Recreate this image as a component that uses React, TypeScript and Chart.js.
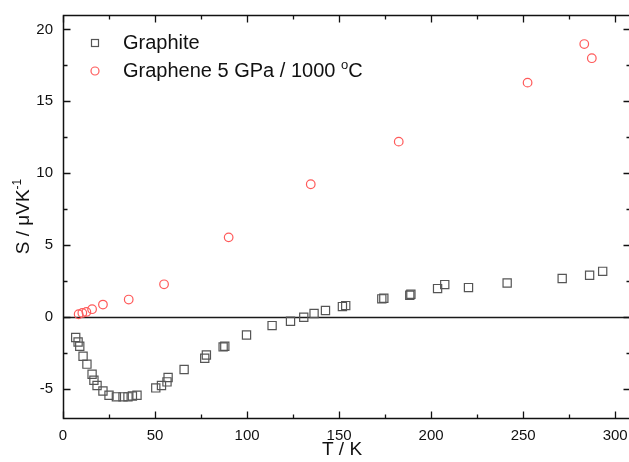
import React, { useEffect, useRef } from "react";
import { Chart, registerables } from "chart.js";

Chart.register(...registerables);

// ---- data ----
const graphiteT = [6.9, 8.2, 9.1, 10.9, 13.0, 15.8, 16.8, 18.5, 21.7, 25.0, 29.0, 32.6, 35.3, 37.7, 40.2, 50.4, 53.5, 56.5, 57.1, 65.8, 77.0, 77.9, 87.0, 87.9, 99.7, 113.6, 123.6, 130.8, 136.4, 142.6, 151.8, 153.6, 173.2, 174.3, 188.4, 189.0, 203.5, 207.4, 220.3, 241.3, 271.2, 286.1, 293.2];
const graphiteS = [-1.41, -1.72, -2.01, -2.71, -3.26, -3.96, -4.38, -4.74, -5.12, -5.42, -5.53, -5.53, -5.53, -5.47, -5.42, -4.91, -4.74, -4.49, -4.19, -3.63, -2.85, -2.62, -2.06, -2.01, -1.23, -0.58, -0.28, 0.0, 0.26, 0.47, 0.74, 0.81, 1.28, 1.32, 1.53, 1.6, 1.99, 2.27, 2.06, 2.38, 2.69, 2.92, 3.19];

const grapheneT = [8.5, 10.5, 12.7, 15.8, 21.7, 35.7, 54.9, 90.0, 134.6, 182.4, 252.4, 283.2, 287.3];
const grapheneS = [0.21, 0.3, 0.37, 0.56, 0.88, 1.23, 2.29, 5.55, 9.24, 12.2, 16.3, 18.98, 18.0];

const xMajorTicks = [0, 50, 100, 150, 200, 250, 300];
const xMinorTicks = [25, 75, 125, 175, 225, 275];
const yMajorTicks = [-5, 0, 5, 10, 15, 20];
const yMinorTicks = [-2.5, 2.5, 7.5, 12.5, 17.5];

const seriesNames = ["Graphite", "Graphene 5 GPa / 1000 "];
const grapheneNameSup = "o";
const grapheneNameTail = "C";
const xTitle = "T / K";
const yTitleMain = "S / \u03BCVK";
const yTitleSup = "-1";

const FONT = "'Liberation Sans', Arial, sans-serif";
const SQUARE_COLOR = "#555555";
const CIRCLE_COLOR = "#ff5a5a";
const AXIS_COLOR = "#111111";

const decorPlugin = {
  id: "decor",
  beforeDatasetsDraw(chart: any) {
    const { ctx, chartArea: a, scales } = chart;
    const y0 = Math.round(scales.y.getPixelForValue(0)) + 0.5;
    ctx.save();
    ctx.strokeStyle = "#1a1a1a";
    ctx.lineWidth = 1.4;
    ctx.beginPath();
    ctx.moveTo(a.left, y0);
    ctx.lineTo(a.right, y0);
    ctx.stroke();
    ctx.restore();
  },
  afterDraw(chart: any) {
    const { ctx, chartArea: a, scales } = chart;
    const xs = scales.x;
    const ys = scales.y;
    ctx.save();
    ctx.strokeStyle = AXIS_COLOR;
    ctx.lineWidth = 1.5;
    const L = Math.round(a.left) + 0.5;
    const R = Math.round(a.right) + 1.5; // right frame lies just outside the picture
    const T = Math.round(a.top) + 0.5;
    const B = Math.round(a.bottom) + 0.5;
    ctx.beginPath();
    ctx.moveTo(R, T);
    ctx.lineTo(L, T);
    ctx.lineTo(L, B);
    ctx.lineTo(R, B);
    ctx.stroke();

    ctx.lineWidth = 1.3;
    const tick = (vals: number[], len: number) => {
      ctx.beginPath();
      for (const v of vals) {
        const px = Math.round(xs.getPixelForValue(v)) + 0.5;
        ctx.moveTo(px, B);
        ctx.lineTo(px, B - len);
        ctx.moveTo(px, T);
        ctx.lineTo(px, T + len);
      }
      ctx.stroke();
    };
    const ytick = (vals: number[], len: number) => {
      ctx.beginPath();
      for (const v of vals) {
        const py = Math.round(ys.getPixelForValue(v)) + 0.5;
        ctx.moveTo(L, py);
        ctx.lineTo(L + len, py);
        ctx.moveTo(R, py);
        ctx.lineTo(R - len, py);
      }
      ctx.stroke();
    };
    tick(xMajorTicks, 7);
    tick(xMinorTicks, 4);
    ytick(yMajorTicks, 7);
    ytick(yMinorTicks, 4);

    // axis titles
    ctx.fillStyle = "#111";
    ctx.font = `19px ${FONT}`;
    ctx.textAlign = "center";
    ctx.textBaseline = "alphabetic";
    ctx.fillText(xTitle, (a.left + a.right) / 2 - 4, 455);

    ctx.save();
    ctx.translate(29, (a.top + a.bottom) / 2);
    ctx.rotate(-Math.PI / 2);
    ctx.font = `19px ${FONT}`;
    const mainW = ctx.measureText(yTitleMain).width;
    ctx.font = `12px ${FONT}`;
    const supW = ctx.measureText(yTitleSup).width;
    const total = mainW + supW;
    ctx.textAlign = "left";
    ctx.font = `19px ${FONT}`;
    ctx.fillText(yTitleMain, -total / 2, 0);
    ctx.font = `12px ${FONT}`;
    ctx.fillText(yTitleSup, -total / 2 + mainW, -8);
    ctx.restore();

    // legend
    ctx.lineWidth = 1.2;
    ctx.strokeStyle = SQUARE_COLOR;
    ctx.strokeRect(91.5, 39.5, 7, 7);
    ctx.strokeStyle = CIRCLE_COLOR;
    ctx.beginPath();
    ctx.arc(95, 71, 4, 0, Math.PI * 2);
    ctx.stroke();

    ctx.fillStyle = "#111";
    ctx.textAlign = "left";
    ctx.font = `20px ${FONT}`;
    ctx.fillText(seriesNames[0], 123, 49);
    ctx.fillText(seriesNames[1], 123, 77);
    const w1 = ctx.measureText(seriesNames[1]).width;
    ctx.font = `13px ${FONT}`;
    ctx.fillText(grapheneNameSup, 123 + w1, 69);
    const w2 = ctx.measureText(grapheneNameSup).width;
    ctx.font = `20px ${FONT}`;
    ctx.fillText(grapheneNameTail, 123 + w1 + w2, 77);

    ctx.restore();
  },
};

export default function App() {
  const ref = useRef<HTMLCanvasElement | null>(null);
  useEffect(() => {
    if (!ref.current) return;
    const chart = new Chart(ref.current, {
      type: "scatter",
      data: {
        datasets: [
          {
            label: seriesNames[0],
            data: graphiteT.map((t, i) => ({ x: t, y: graphiteS[i] })),
            pointStyle: "rect",
            pointRadius: 5.8,
            borderColor: SQUARE_COLOR,
            backgroundColor: "rgba(0,0,0,0)",
            borderWidth: 1.2,
          },
          {
            label: seriesNames[1] + grapheneNameSup + grapheneNameTail,
            data: grapheneT.map((t, i) => ({ x: t, y: grapheneS[i] })),
            pointStyle: "circle",
            pointRadius: 4.3,
            borderColor: CIRCLE_COLOR,
            backgroundColor: "rgba(0,0,0,0)",
            borderWidth: 1.2,
          },
        ],
      },
      options: {
        animation: false,
        responsive: false,
        devicePixelRatio: 1,
        layout: { autoPadding: false, padding: { top: 15, right: 0, left: 0, bottom: 0 } },
        plugins: { legend: { display: false }, tooltip: { enabled: false } },
        scales: {
          x: {
            type: "linear",
            min: 0,
            max: 307.5,
            grid: { display: false, drawTicks: false },
            border: { display: false },
            afterBuildTicks: (s: any) => {
              s.ticks = xMajorTicks.map((v) => ({ value: v }));
            },
            afterFit: (s: any) => {
              s.height = 44;
              s.paddingLeft = 0;
              s.paddingRight = 0;
            },
            ticks: { font: { family: FONT, size: 15 }, color: "#111", padding: 9, maxRotation: 0 },
          },
          y: {
            type: "linear",
            min: -7,
            max: 21,
            grid: { display: false, drawTicks: false },
            border: { display: false },
            afterBuildTicks: (s: any) => {
              s.ticks = yMajorTicks.map((v) => ({ value: v }));
            },
            afterFit: (s: any) => {
              s.width = 63;
              s.paddingTop = 0;
              s.paddingBottom = 0;
            },
            ticks: { font: { family: FONT, size: 15 }, color: "#111", padding: 10 },
          },
        },
      },
      plugins: [decorPlugin],
    });
    return () => chart.destroy();
  }, []);
  return (
    <div style={{ position: "fixed", left: 0, top: 0, width: 629, height: 462, background: "#fff" }}>
      <canvas ref={ref} width={629} height={462} style={{ display: "block" }} />
    </div>
  );
}
